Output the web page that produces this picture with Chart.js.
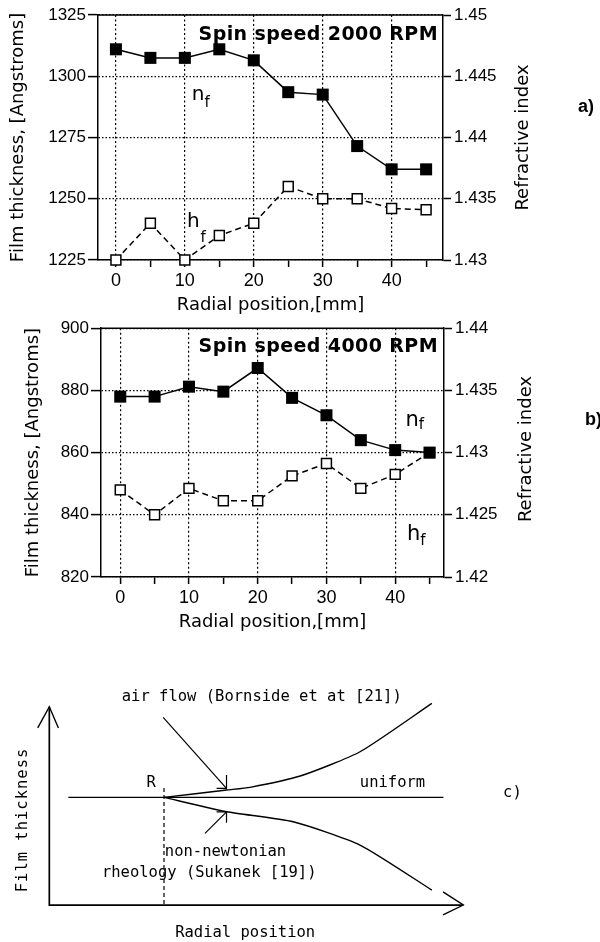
<!DOCTYPE html>
<html>
<head>
<meta charset="utf-8">
<script src="https://cdn.jsdelivr.net/npm/chart.js@4.4.1/dist/chart.umd.min.js"></script>
<style>
  html, body { margin: 0; padding: 0; background: #fff; }
  body { width: 600px; height: 942px; position: relative; overflow: hidden; }
  canvas { position: absolute; left: 0; }
  #chartA { top: 0; }
  #chartB { top: 315px; }
  #chartC { top: 640px; }
</style>
</head>
<body>
<canvas id="chartA" width="600" height="320"></canvas>
<canvas id="chartB" width="600" height="325"></canvas>
<canvas id="chartC" width="600" height="302"></canvas>
<script>
// radial position on the wafer, mm
const radialPos = [0, 5, 10, 15, 20, 25, 30, 35, 40, 45];

// a) spin speed 2000 RPM
const nf2000 = [1.4472, 1.4465, 1.4465, 1.4472, 1.4463, 1.4437, 1.4435, 1.4393, 1.4374, 1.4374];
const hf2000 = [1225, 1240, 1225, 1235, 1240, 1255, 1250, 1250, 1246, 1245.5];

// b) spin speed 4000 RPM
const nf4000 = [1.4345, 1.4345, 1.4353, 1.4349, 1.4368, 1.4344, 1.4330, 1.4310, 1.4302, 1.4300];
const hf4000 = [848, 840, 848.5, 844.5, 844.5, 852.5, 856.5, 848.5, 853, 860];

// c) sketch, x = radial position, y = film thickness (arbitrary units)
const sketchAxes = [[0, 100], [0, 0], [100, 0]];
const sketchArrowY = [[-2.8, 89.3], [0, 100], [2.2, 89.3]];
const sketchArrowX = [[95.1, 6.6], [100, 0], [95.1, -5]];
const sketchUniform = [[4.6, 54.3], [95.2, 54.3]];
const sketchAirFlow = [[27.7, 54.3], [42.85, 58], [48.5, 59.35], [60.6, 65.05], [75.05, 77.3], [92.4, 101.7]];
const sketchRheology = [[27.7, 54.3], [42.85, 47.05], [58.9, 42], [75.05, 30.26], [92.4, 7.56]];
const sketchR = [[27.7, 59], [27.7, 0]];
const pointerUp = [[27.5, 94.6], [42.8, 58.8]];
const pointerUpHead = [[40.4, 58.8], [42.8, 58.8], [42.8, 65.6]];
const pointerDown = [[37.6, 36.1], [42.8, 47]];
const pointerDownHead = [[40.4, 47], [42.8, 47], [42.8, 41.5]];

const SANS = "'DejaVu Sans'";
const ARIAL = "'Liberation Sans'";
const MONO = "'DejaVu Sans Mono'";

// text and frame that the axes don't draw
const panelNotes = {
  id: 'panelNotes',
  afterDraw(chart, args, opts) {
    const {ctx, chartArea: area, scales} = chart;
    ctx.save();
    ctx.fillStyle = '#000';
    ctx.strokeStyle = '#000';
    if (opts.frame) {
      ctx.lineWidth = 1.5;
      ctx.beginPath();
      ctx.moveTo(area.left, area.top);
      ctx.lineTo(area.right, area.top);
      ctx.stroke();
    }
    (opts.labels || []).forEach(l => {
      const px = l.data ? scales.x.getPixelForValue(l.x) : l.x;
      const py = l.data ? scales[l.axis || 'y'].getPixelForValue(l.y) : l.y;
      ctx.font = l.font;
      ctx.textAlign = l.align || 'left';
      ctx.textBaseline = l.baseline || 'alphabetic';
      ctx.letterSpacing = l.spacing || '0px';
      ctx.fillStyle = l.color || '#000';
      if (l.rotate) {
        ctx.save();
        ctx.translate(px, py);
        ctx.rotate(l.rotate);
        ctx.fillText(l.text, 0, 0);
        ctx.restore();
      } else {
        ctx.fillText(l.text, px, py);
      }
      if (l.sub) {
        const w = ctx.measureText(l.text).width;
        ctx.font = l.subFont;
        ctx.textAlign = 'left';
        ctx.fillText(l.sub, px + w + (l.subDx || 0), py + l.subDy);
      }
    });
    ctx.restore();
  }
};
Chart.register(panelNotes);

function panelChart(id, o) {
  const tickFont = {family: ARIAL, size: 17};
  const titleFont = {family: SANS, size: 18};
  return new Chart(document.getElementById(id), {
    type: 'line',
    data: {
      datasets: [{
        label: 'nf',
        yAxisID: 'y1',
        data: radialPos.map((x, i) => ({x: x, y: o.nf[i]})),
        borderColor: '#000',
        borderWidth: 1.5,
        pointStyle: 'rect',
        pointRadius: 8.5,
        pointBackgroundColor: '#000',
        pointBorderColor: '#000',
        pointBorderWidth: 0,
        clip: false
      }, {
        label: 'hf',
        yAxisID: 'y',
        data: radialPos.map((x, i) => ({x: x, y: o.hf[i]})),
        borderColor: '#000',
        borderWidth: 1.5,
        borderDash: [6, 4],
        pointStyle: 'rect',
        pointRadius: 7,
        pointBackgroundColor: '#fff',
        pointBorderColor: '#000',
        pointBorderWidth: 1.5,
        clip: false
      }]
    },
    options: {
      responsive: false,
      animation: false,
      devicePixelRatio: 1,
      layout: {padding: {top: o.padTop, left: 0, right: 0, bottom: 0}},
      plugins: {
        legend: {display: false},
        tooltip: {enabled: false},
        panelNotes: {frame: true, labels: o.labels}
      },
      scales: {
        x: {
          type: 'linear',
          min: o.xMin,
          max: o.xMax,
          afterFit: s => { s.height = o.xAxisH; },
          ticks: {
            stepSize: 5,
            includeBounds: false,
            autoSkip: false,
            maxRotation: 0,
            padding: 3,
            color: '#000',
            font: {family: ARIAL, size: 18},
            callback: v => (v % 10 === 0 ? String(v) : '')
          },
          grid: {
            color: c => (c.tick && c.tick.value % 10 === 0) ? '#000' : 'rgba(0,0,0,0)',
            tickColor: '#000',
            tickLength: 7,
            lineWidth: 1.2,
            tickWidth: 1.5
          },
          border: {display: true, color: '#000', width: 1.5, dash: [2, 2.5]},
          title: {display: true, text: 'Radial position,[mm]', color: '#000', font: titleFont,
                  padding: {top: 0, bottom: o.xTitlePad}}
        },
        y: {
          position: 'left',
          min: o.yMin,
          max: o.yMax,
          afterFit: s => { s.width = o.leftW; },
          ticks: {stepSize: o.yStep, padding: 2, color: '#000', font: tickFont,
                  callback: v => String(v)},
          grid: {color: '#000', tickColor: '#000', tickLength: 10, lineWidth: 1.2, tickWidth: 1.5},
          border: {display: true, color: '#000', width: 1.5, dash: [1.5, 2]},
          title: {display: true, text: 'Film thickness, [Angstroms]', color: '#000', font: titleFont,
                  padding: {top: o.yTitlePad, bottom: 0}}
        },
        y1: {
          position: 'right',
          min: o.rMin,
          max: o.rMax,
          afterFit: s => { s.width = o.rightW; },
          ticks: {stepSize: 0.005, padding: 3, color: '#000', font: tickFont,
                  callback: v => String(parseFloat(v.toFixed(3)))},
          grid: {drawOnChartArea: false, tickColor: '#000', tickLength: 8, tickWidth: 1.5},
          border: {display: true, color: '#000', width: 1.5}
        }
      }
    }
  });
}

panelChart('chartA', {
  nf: nf2000, hf: hf2000,
  xMin: -2.6, xMax: 47.45,
  yMin: 1225, yMax: 1325, yStep: 25,
  rMin: 1.43, rMax: 1.45,
  padTop: 15, leftW: 98, rightW: 157, xAxisH: 60,
  xTitlePad: 4.2, yTitlePad: 7.2,
  labels: [
    {text: 'Spin speed 2000 RPM', x: 438, y: 40, align: 'right', font: `bold 19px ${SANS}`, spacing: '0.4px'},
    {text: 'n', sub: 'f', data: true, x: 11.0, y: 1290.3, font: `20px ${SANS}`, subFont: `15px ${SANS}`, subDx: 0, subDy: 7},
    {text: 'h', sub: 'f', data: true, x: 10.3, y: 1238.5, font: `20px ${SANS}`, subFont: `15px ${SANS}`, subDx: 1, subDy: 15},
    {text: 'Refractive index', x: 523, y: 137.5, align: 'center', baseline: 'middle', rotate: -Math.PI / 2, font: `18px ${SANS}`},
    {text: 'a)', x: 578, y: 112, font: `bold 18px ${ARIAL}`}
  ]
});

panelChart('chartB', {
  nf: nf4000, hf: hf4000,
  xMin: -2.8, xMax: 47.1,
  yMin: 820, yMax: 900, yStep: 20,
  rMin: 1.42, rMax: 1.44,
  padTop: 12, leftW: 101, rightW: 156, xAxisH: 63,
  xTitlePad: 7.2, yTitlePad: 22.2,
  labels: [
    {text: 'Spin speed 4000 RPM', x: 438, y: 37, align: 'right', font: `bold 19px ${SANS}`, spacing: '0.4px'},
    {text: 'n', sub: 'f', data: true, x: 41.5, y: 868.6, font: `21px ${SANS}`, subFont: `15px ${SANS}`, subDx: 0, subDy: 3},
    {text: 'h', sub: 'f', data: true, x: 41.7, y: 831.8, font: `21px ${SANS}`, subFont: `15px ${SANS}`, subDx: 0, subDy: 5},
    {text: 'Refractive index', x: 526, y: 134, align: 'center', baseline: 'middle', rotate: -Math.PI / 2, font: `18px ${SANS}`},
    {text: 'b)', x: 585, y: 110, font: `bold 18px ${ARIAL}`}
  ]
});

// c) qualitative sketch
const pts = arr => arr.map(p => ({x: p[0], y: p[1]}));
const ink = (arr, extra) => Object.assign({
  data: pts(arr), showLine: true, borderColor: '#000', borderWidth: 1.4,
  pointRadius: 0, tension: 0, clip: false
}, extra || {});

new Chart(document.getElementById('chartC'), {
  type: 'scatter',
  data: {
    datasets: [
      ink(sketchAxes, {borderWidth: 1.7}),
      ink(sketchArrowY),
      ink(sketchArrowX),
      ink(sketchUniform),
      ink(sketchAirFlow, {tension: 0.2}),
      ink(sketchRheology, {tension: 0.2}),
      ink(sketchR, {borderDash: [4, 3], borderWidth: 1.2}),
      ink(pointerUp, {borderWidth: 1.2}),
      ink(pointerUpHead, {borderWidth: 1.2}),
      ink(pointerDown, {borderWidth: 1.2}),
      ink(pointerDownHead, {borderWidth: 1.2})
    ]
  },
  options: {
    responsive: false,
    animation: false,
    devicePixelRatio: 1,
    layout: {padding: {left: 16.2, right: 116, top: 46.9, bottom: 21.1}},
    plugins: {
      legend: {display: false},
      tooltip: {enabled: false},
      panelNotes: {
        labels: [
          {text: 'air flow (Bornside et at [21])', data: true, x: 17.5, y: 105, baseline: 'middle', font: `15.5px ${MONO}`},
          {text: 'R', data: true, x: 23.5, y: 61.5, baseline: 'middle', font: `15.5px ${MONO}`},
          {text: 'uniform', data: true, x: 75, y: 61.6, baseline: 'middle', font: `15.5px ${MONO}`},
          {text: 'non-newtonian', data: true, x: 27.9, y: 26.9, baseline: 'middle', font: `15.5px ${MONO}`},
          {text: 'rheology (Sukanek [19])', data: true, x: 12.7, y: 16, baseline: 'middle', font: `15.5px ${MONO}`},
          {text: 'Radial position', data: true, x: 30.4, y: -14.3, baseline: 'middle', font: `15.5px ${MONO}`},
          {text: 'Film thickness', data: true, x: -6.3, y: 42.9, align: 'center', baseline: 'middle', rotate: -Math.PI / 2, font: `15.5px ${MONO}`, spacing: '1px'},
          {text: 'c)', data: true, x: 109.6, y: 56.3, baseline: 'middle', font: `15.5px ${MONO}`}
        ]
      }
    },
    scales: {
      x: {type: 'linear', display: false, min: -8, max: 105},
      y: {type: 'linear', display: false, min: -8, max: 110}
    }
  }
});
</script>
</body>
</html>
